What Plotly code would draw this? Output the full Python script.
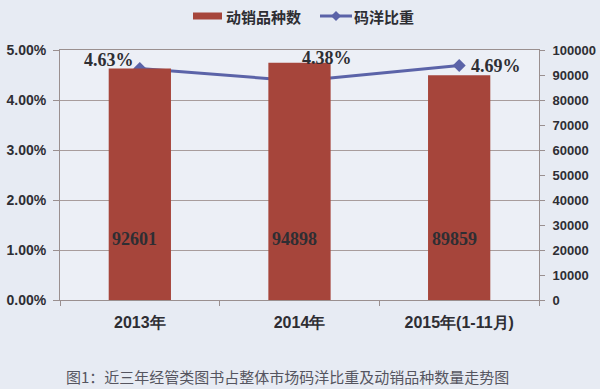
import plotly.graph_objects as go

categories = ["2013年", "2014年", "2015年(1-11月)"]
varieties = [92601, 94898, 89859]
share_pct = [4.63, 4.38, 4.69]
share_labels = ["4.63%", "4.38%", "4.69%"]
left_ticks = [0, 1, 2, 3, 4, 5]
left_ticklabels = ["0.00%", "1.00%", "2.00%", "3.00%", "4.00%", "5.00%"]
right_ticks = list(range(0, 100001, 10000))
legend_names = ["动销品种数", "码洋比重"]
caption = "图1：近三年经管类图书占整体市场码洋比重及动销品种数量走势图"

BG = "#e7ebf3"
AX = "#9a8f8f"
TXT = "#2e2e33"
BAR = "#a6453b"
LINE = "#5b63a8"
W, H = 600, 389
ML, MR, MT, MB = 60, 61, 50, 89

fig = go.Figure()
fig.add_trace(go.Bar(
    x=categories, y=varieties, name=legend_names[0], yaxis="y2",
    marker=dict(color=BAR, line=dict(width=0)), width=0.39,
))
fig.add_trace(go.Scatter(
    x=categories, y=share_pct, name=legend_names[1], mode="lines+markers",
    line=dict(color=LINE, width=3),
    marker=dict(symbol="diamond", size=10, color=LINE),
))

# bar value labels
for c, v in zip(categories, varieties):
    fig.add_annotation(x=c, y=24500, yref="y2", text=str(v), showarrow=False,
                       xshift=-5,
                       font=dict(family="Liberation Serif", size=18, color=TXT, weight="bold"))

# line value labels
shifts = [(-31, 9), (27, 23), (37, 0)]
for (c, v, t), (dx, dy) in zip(zip(categories, share_pct, share_labels), shifts):
    fig.add_annotation(x=c, y=v, text=t, showarrow=False, xshift=dx, yshift=dy,
                       font=dict(family="Liberation Serif", size=18, color=TXT, weight="bold"))


def px(x):
    return (x - ML) / (W - ML - MR)


def py(y):
    return (H - MB - y) / (H - MT - MB)


# caption
fig.add_annotation(x=px(287), y=py(376), xref="paper", yref="paper", text=caption,
                   showarrow=False, yanchor="middle",
                   font=dict(family="Noto Sans CJK SC", size=15, color="#555560"))

# custom legend
ly = 16
fig.add_shape(type="rect", xref="paper", yref="paper",
              x0=px(193), x1=px(222), y0=py(ly + 3.5), y1=py(ly - 3.5),
              fillcolor=BAR, line=dict(width=0))
fig.add_annotation(x=px(224), y=py(ly), xref="paper", yref="paper", text=legend_names[0],
                   showarrow=False, xanchor="left", yanchor="middle",
                   font=dict(family="Noto Sans CJK SC", size=15, color=TXT, weight="bold"))
fig.add_shape(type="line", xref="paper", yref="paper",
              x0=px(320), x1=px(352), y0=py(ly), y1=py(ly),
              line=dict(color=LINE, width=3))
cx = 336
fig.add_shape(type="path", xref="paper", yref="paper",
              path=f"M {px(cx-5)} {py(ly)} L {px(cx)} {py(ly-5)} L {px(cx+5)} {py(ly)} L {px(cx)} {py(ly+5)} Z",
              fillcolor=LINE, line=dict(width=0))
fig.add_annotation(x=px(352), y=py(ly), xref="paper", yref="paper", text=legend_names[1],
                   showarrow=False, xanchor="left", yanchor="middle",
                   font=dict(family="Noto Sans CJK SC", size=15, color=TXT, weight="bold"))

fig.update_layout(
    width=W, height=H,
    paper_bgcolor=BG, plot_bgcolor="#eceff6",
    margin=dict(l=ML, r=MR, t=MT, b=MB, autoexpand=False),
    showlegend=False,
    xaxis=dict(
        type="category", tickson="boundaries", ticks="outside", ticklen=5,
        tickcolor=AX, showline=True, linecolor=AX, linewidth=1, mirror=True,
        tickfont=dict(family="Liberation Sans", size=16, color=TXT, weight="bold"),
        showgrid=False, automargin=False, ticklabelstandoff=8,
    ),
    yaxis=dict(
        range=[0, 5], tickvals=left_ticks, ticktext=left_ticklabels,
        ticks="outside", ticklen=6, tickcolor=AX,
        showline=True, linecolor=AX, linewidth=1,
        showgrid=True, gridcolor="#a89c9c", gridwidth=1, zeroline=False,
        tickfont=dict(family="Liberation Sans", size=14, color=TXT, weight="bold"),
        automargin=False, ticklabelstandoff=4,
    ),
    yaxis2=dict(
        range=[0, 100000], tickvals=right_ticks, tickformat="d",
        overlaying="y", side="right",
        ticks="outside", ticklen=5, tickcolor=AX,
        showline=True, linecolor=AX, linewidth=1, showgrid=False, zeroline=False,
        tickfont=dict(family="Liberation Sans", size=13, color=TXT, weight="bold"),
        automargin=False, ticklabelstandoff=5,
    ),
)

fig.write_html("out.html", config={"displayModeBar": False},
               post_script="document.body.style.margin='0';document.body.style.padding='0';")
